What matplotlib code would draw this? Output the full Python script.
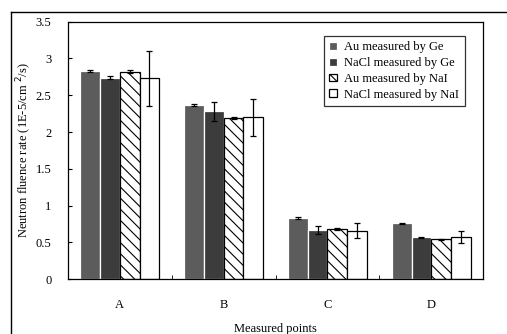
import numpy as np
import matplotlib
matplotlib.use("Agg")
import matplotlib.pyplot as plt
from matplotlib.lines import Line2D

plt.rcParams['font.family'] = ['Liberation Serif', 'DejaVu Serif']
plt.rcParams['hatch.linewidth'] = 0.8

points = ["A", "B", "C", "D"]
series = ["Au measured by Ge", "NaCl measured by Ge", "Au measured by NaI", "NaCl measured by NaI"]
au_ge = [2.83, 2.37, 0.83, 0.76]
nacl_ge = [2.74, 2.28, 0.67, 0.57]
au_nai = [2.82, 2.19, 0.68, 0.54]
nacl_nai = [2.73, 2.20, 0.66, 0.57]
err_au_ge = [0.01, 0.01, 0.01, 0.01]
err_nacl_ge = [0.02, 0.13, 0.06, 0.01]
err_au_nai = [0.02, 0.01, 0.01, 0.01]
err_nacl_nai = [0.37, 0.25, 0.10, 0.08]

vals = [au_ge, nacl_ge, au_nai, nacl_nai]
errs = [err_au_ge, err_nacl_ge, err_au_nai, err_nacl_nai]
faces = ["#5c5c5c", "#3c3c3c", "white", "white"]
edges = ["white", "white", "black", "black"]
hatches = [None, None, "\\\\\\", None]

fig = plt.figure(figsize=(5.07, 3.34), dpi=100)
ax = fig.add_axes([0.134, 0.164, 0.819, 0.771])

x = np.arange(len(points))
w = 0.19
for i in range(4):
    pos = x + (i - 1.5) * w
    ax.bar(pos, vals[i], width=w, color=faces[i], edgecolor=edges[i], hatch=hatches[i],
           linewidth=0.9, label=series[i], zorder=2)
    ax.errorbar(pos, vals[i], yerr=errs[i], fmt="none", ecolor="black", elinewidth=0.9,
                capsize=2.5, capthick=0.9, zorder=3)

ax.set_xlim(-0.5, 3.5)
ax.set_ylim(0, 3.5)
ax.set_yticks(np.arange(0, 3.51, 0.5))
ax.set_yticklabels(["0", "0.5", "1", "1.5", "2", "2.5", "3", "3.5"])
ax.set_xticks(x)
ax.set_xticklabels(points)
ax.set_xticks([0.5, 1.5, 2.5], minor=True)
ax.tick_params(axis="x", which="major", length=0, pad=14, labelsize=9)
ax.tick_params(axis="x", which="minor", direction="in", length=3)
ax.tick_params(axis="y", direction="in", length=3, labelsize=9, pad=12)
for s in ax.spines.values():
    s.set_linewidth(0.9)

ax.set_ylabel("Neutron fluence rate (1E-5/cm$^{\\ 2}$/s)", fontsize=9, labelpad=1)
ax.set_xlabel("Measured points", fontsize=9, labelpad=9)

leg = ax.legend(loc="upper right", bbox_to_anchor=(0.965, 0.96), fontsize=9,
                frameon=True, fancybox=False, edgecolor="black", handlelength=0.6,
                handleheight=0.6, handletextpad=0.6, labelspacing=0.3, borderpad=0.45,
                borderaxespad=0.3)
leg.get_frame().set_linewidth(0.9)

# outer frame of the figure
fig.add_artist(Line2D([0.022, 1.0], [0.964, 0.964], color="black", lw=1.0))
fig.add_artist(Line2D([0.022, 0.022], [0.0, 0.964], color="black", lw=1.0))

plt.savefig("out.png", dpi=100)
